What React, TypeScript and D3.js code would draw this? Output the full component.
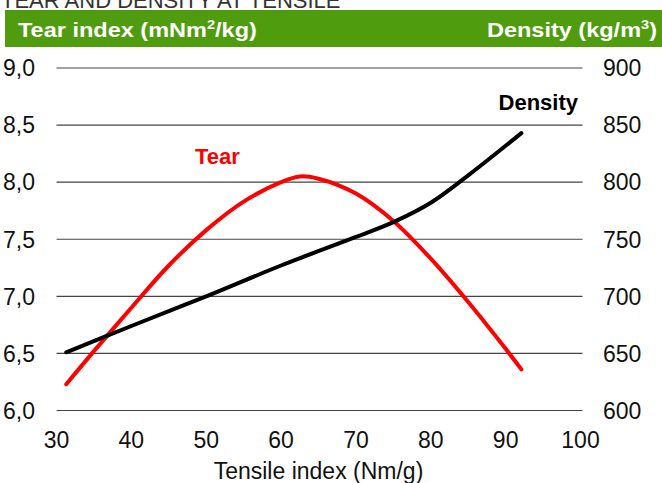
import * as d3 from "d3";

const W = 662;
const H = 483;

// tensile index (Nm/g) -> tear index (mNm²/kg)
const tearX = [31.3, 35, 40, 45, 50, 55, 60, 62.5, 65, 70, 75, 80, 85, 90, 92.1];
const tearY = [6.23, 6.52, 6.9, 7.27, 7.58, 7.83, 8.0, 8.05, 8.03, 7.9, 7.66, 7.33, 6.95, 6.54, 6.36];

// tensile index (Nm/g) -> density (kg/m³)
const densX = [31.3, 40, 50, 60, 70, 75, 80, 85, 92.1];
const densY = [651, 674, 700, 727, 752, 765, 782, 806, 843];

const xTicks = [30, 40, 50, 60, 70, 80, 90, 100];
const leftTicks = [6.0, 6.5, 7.0, 7.5, 8.0, 8.5, 9.0];
const rightTicks = [600, 650, 700, 750, 800, 850, 900];

const font = "'Liberation Sans', Arial, sans-serif";

export default function App() {
  const x = d3.scaleLinear().domain([30, 100]).range([56.5, 580.5]);
  const yL = d3.scaleLinear().domain([6, 9]).range([410.5, 68]);
  const yR = d3.scaleLinear().domain([600, 900]).range([410.5, 68]);

  const tearLine = d3
    .line<number>()
    .x((d, i) => x(tearX[i]))
    .y(d => yL(d))
    .curve(d3.curveCatmullRom.alpha(0.5));

  const densLine = d3
    .line<number>()
    .x((d, i) => x(densX[i]))
    .y(d => yR(d))
    .curve(d3.curveCatmullRom.alpha(0.5));

  const fmt = (v: number) => v.toFixed(1).replace(".", ",");

  return (
    <svg
      width={W}
      height={H}
      style={{ position: "absolute", left: 0, top: 0, background: "#fff" }}
      fontFamily={font}
    >
      <text x={1} y={8} fontSize={22} fill="#333">
        TEAR AND DENSITY AT TENSILE
      </text>

      <rect x={5} y={10} width={W - 5} height={37} fill="#4f9c0e" />
      <g transform="translate(18,37) scale(1.12,1)">
        <text x={0} y={0} fontSize={21} fontWeight="bold" fill="#fff">
          Tear index (mNm<tspan dy={-8} fontSize={13}>2</tspan>
          <tspan dy={8}>/kg)</tspan>
        </text>
      </g>
      <g transform="translate(657,37) scale(1.12,1)">
        <text x={0} y={0} fontSize={21} fontWeight="bold" fill="#fff" textAnchor="end">
          Density (kg/m<tspan dy={-8} fontSize={13}>3</tspan>
          <tspan dy={8}>)</tspan>
        </text>
      </g>

      {leftTicks.map(t => (
        <line
          key={t}
          x1={x(30)}
          x2={x(100) + 2}
          y1={yL(t)}
          y2={yL(t)}
          stroke="#444"
          strokeWidth={1.2}
        />
      ))}

      {leftTicks.map(t => (
        <text key={t} x={35} y={yL(t)} dy="0.36em" fontSize={23} textAnchor="end" fill="#111">
          {fmt(t)}
        </text>
      ))}
      {rightTicks.map(t => (
        <text key={t} x={603} y={yR(t)} dy="0.36em" fontSize={23} fill="#111">
          {t}
        </text>
      ))}
      {xTicks.map(t => (
        <text key={t} x={x(t)} y={448} fontSize={23} textAnchor="middle" fill="#111">
          {t}
        </text>
      ))}
      <text x={(x(30) + x(100)) / 2} y={479} fontSize={23} textAnchor="middle" fill="#111">
        Tensile index (Nm/g)
      </text>

      <path
        d={tearLine(tearY) ?? ""}
        fill="none"
        stroke="#ff0000"
        strokeWidth={4}
        strokeLinecap="round"
        strokeLinejoin="round"
      />
      <path
        d={densLine(densY) ?? ""}
        fill="none"
        stroke="#000"
        strokeWidth={4}
        strokeLinecap="round"
        strokeLinejoin="round"
      />

      <text x={195} y={164} fontSize={22} fontWeight="bold" fill="#ff0000">
        Tear
      </text>
      <text x={578} y={110} fontSize={22} fontWeight="bold" fill="#000" textAnchor="end">
        Density
      </text>
    </svg>
  );
}
